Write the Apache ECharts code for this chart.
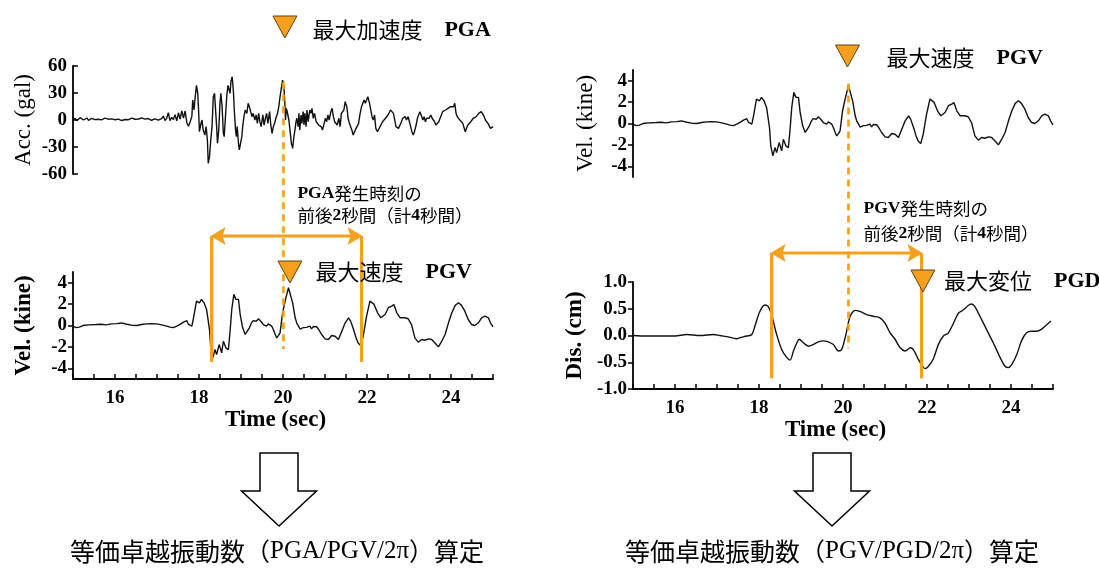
<!DOCTYPE html>
<html>
<head>
<meta charset="utf-8">
<script src="https://cdn.jsdelivr.net/npm/echarts@6/dist/echarts.min.js"></script>
<style>
  html, body { margin: 0; padding: 0; background: #fff; }
  #main { width: 1099px; height: 574px; }
</style>
</head>
<body>
<div id="main"></div>
<script>
// ---- axis ticks and labels ----
const timeTicks = [15, 15.5, 16, 16.5, 17, 17.5, 18, 18.5, 19, 19.5, 20, 20.5, 21, 21.5, 22, 22.5, 23, 23.5, 24, 24.5, 25];
const timeLabels = [16, 18, 20, 22, 24];
const accTicks = [-60, -30, 0, 30, 60];
const velTicks = [-4, -2, 0, 2, 4];
const disTicks = [-1, -0.5, 0, 0.5, 1];

// ---- acceleration record [time (s), acc (gal)] ----
const accPoints = [
  [15.00,1.0],[15.05,1.9],[15.09,-0.7],[15.13,1.5],[15.17,2.6],[15.21,0.5],[15.25,0.0],[15.29,1.5],[15.33,2.2],[15.37,-0.5],
  [15.40,0.7],[15.44,1.8],[15.48,2.6],[15.52,0.4],[15.56,-1.5],[15.60,0.8],[15.64,1.9],[15.68,0.2],[15.72,0.7],[15.76,2.0],
  [15.80,3.0],[15.84,0.9],[15.88,0.0],[15.92,1.2],[15.96,1.5],[16.00,0.3],[16.04,2.2],[16.08,1.0],[16.12,0.0],[16.16,-0.6],
  [16.20,-1.5],[16.24,0.6],[16.28,1.9],[16.32,0.3],[16.36,0.7],[16.40,2.0],[16.44,2.6],[16.48,0.8],[16.52,0.0],[16.56,1.1],
  [16.60,1.5],[16.64,2.4],[16.67,3.3],[16.71,1.0],[16.75,0.7],[16.79,1.6],[16.83,1.5],[16.87,-0.3],[16.91,0.0],[16.95,1.2],
  [16.99,0.7],[17.03,-0.2],[17.07,-0.7],[17.11,1.5],[17.15,4.4],[17.19,-0.7],[17.23,1.9],[17.27,8.1],[17.31,-0.7],[17.35,3.0],
  [17.39,0.5],[17.43,6.0],[17.47,-1.0],[17.51,8.0],[17.55,1.0],[17.59,10.0],[17.63,2.0],[17.67,10.0],[17.71,-3.0],[17.75,-7.0],
  [17.79,-2.0],[17.83,4.0],[17.85,22.2],[17.88,11.1],[17.91,25.9],[17.94,38.5],[17.97,29.6],[17.99,11.1],[18.01,-13.0],[18.04,-5.6],
  [18.07,0.0],[18.10,-11.1],[18.14,-16.7],[18.17,-7.4],[18.20,-22.2],[18.22,-48.1],[18.25,-40.7],[18.28,-22.2],[18.31,-7.4],[18.34,25.9],
  [18.37,29.6],[18.40,7.4],[18.42,-7.4],[18.44,-25.9],[18.47,-11.1],[18.50,18.5],[18.52,29.6],[18.55,14.8],[18.58,-14.8],[18.60,-18.5],
  [18.63,3.7],[18.66,25.9],[18.69,38.5],[18.71,37.0],[18.74,29.6],[18.76,42.6],[18.79,48.1],[18.82,31.5],[18.84,11.1],[18.87,-11.1],
  [18.89,-18.5],[18.91,-7.4],[18.94,-25.9],[18.96,-33.3],[18.99,-35.2],[19.02,-18.5],[19.04,-7.4],[19.07,3.7],[19.10,11.1],[19.14,7.4],
  [19.17,18.5],[19.20,14.8],[19.23,9.3],[19.26,3.7],[19.29,7.4],[19.33,0.0],[19.36,5.6],[19.39,-3.7],[19.42,7.4],[19.45,-1.9],
  [19.48,-7.4],[19.52,5.6],[19.55,-5.6],[19.58,1.9],[19.61,7.4],[19.64,-3.7],[19.68,9.3],[19.71,-5.6],[19.74,-14.8],[19.77,-7.4],
  [19.80,-3.7],[19.83,1.9],[19.87,7.4],[19.90,14.8],[19.93,25.9],[19.96,35.2],[19.99,44.4],[20.02,38.5],[20.04,22.2],[20.06,0.0],
  [20.08,13.0],[20.10,9.3],[20.14,0.0],[20.17,-13.0],[20.20,-25.9],[20.23,-31.5],[20.26,-18.5],[20.29,-9.0],[20.31,-1.9],[20.33,1.9],
  [20.36,-7.4],[20.38,7.4],[20.40,-11.1],[20.43,5.6],[20.45,-3.7],[20.48,9.3],[20.50,-5.6],[20.52,7.4],[20.55,-7.4],[20.57,11.1],
  [20.60,-1.9],[20.62,5.6],[20.64,11.1],[20.67,7.4],[20.69,13.0],[20.72,1.9],[20.75,7.4],[20.79,-1.9],[20.82,0.0],[20.85,-5.6],
  [20.88,-3.7],[20.91,-7.4],[20.94,-11.1],[20.98,-3.7],[21.01,1.9],[21.04,-1.9],[21.07,5.6],[21.10,0.0],[21.14,9.3],[21.17,13.0],
  [21.20,3.7],[21.23,-1.9],[21.26,0.0],[21.29,-5.6],[21.33,1.9],[21.36,-7.4],[21.39,7.4],[21.42,7.4],[21.45,11.1],[21.48,20.4],
  [21.52,14.8],[21.55,1.9],[21.58,-3.7],[21.61,-1.9],[21.64,-11.1],[21.67,-16.7],[21.71,-14.8],[21.74,-9.3],[21.77,-9.3],[21.80,-3.7],
  [21.83,5.6],[21.87,14.8],[21.90,18.5],[21.93,22.2],[21.96,18.5],[21.99,20.4],[22.02,25.9],[22.06,18.5],[22.09,11.1],[22.12,3.7],
  [22.15,0.0],[22.18,5.6],[22.21,-9.3],[22.25,-13.0],[22.28,-11.1],[22.31,-7.4],[22.34,-5.6],[22.37,-1.9],[22.40,-1.9],[22.44,1.9],
  [22.47,3.7],[22.50,5.6],[22.53,7.4],[22.56,11.1],[22.60,13.0],[22.63,7.4],[22.66,5.6],[22.69,-7.4],[22.72,-9.3],[22.75,-9.3],
  [22.79,-7.4],[22.82,-1.9],[22.85,1.9],[22.88,0.0],[22.91,3.7],[22.94,0.0],[22.98,3.7],[23.01,-1.9],[23.04,-7.4],[23.07,-13.0],
  [23.10,-16.7],[23.13,-13.0],[23.17,-5.6],[23.20,1.9],[23.23,5.6],[23.26,9.3],[23.29,5.6],[23.33,0.0],[23.36,3.7],[23.39,-1.9],
  [23.42,1.9],[23.45,0.0],[23.48,1.9],[23.52,5.6],[23.55,1.9],[23.58,0.0],[23.61,-1.9],[23.64,-5.6],[23.67,-7.4],[23.71,-1.9],
  [23.74,1.9],[23.77,5.6],[23.80,9.3],[23.83,7.4],[23.87,11.1],[23.90,9.3],[23.93,13.0],[23.96,11.9],[23.99,14.8],[24.02,16.7],
  [24.06,14.8],[24.09,18.5],[24.12,7.4],[24.15,3.7],[24.18,1.9],[24.21,0.0],[24.25,-1.9],[24.28,-3.7],[24.31,-5.6],[24.34,-13.0],
  [24.37,-9.3],[24.40,-5.6],[24.44,-3.7],[24.47,-1.9],[24.50,0.0],[24.53,1.9],[24.56,0.0],[24.60,3.7],[24.63,5.6],[24.66,7.4],
  [24.69,7.4],[24.72,9.3],[24.75,7.4],[24.79,3.7],[24.82,0.0],[24.85,-1.9],[24.88,-3.7],[24.91,-5.6],[24.94,-9.3],[24.98,-11.1],
  [25.00,-7.4]
];

// ---- velocity record [time (s), vel (kine)] ----
const velPoints = [
  [15.00,-0.05],[15.07,-0.20],[15.15,-0.15],[15.27,0.03],[15.39,0.06],[15.55,0.09],[15.67,0.12],[15.79,0.06],[15.91,0.15],[16.04,0.18],
  [16.16,0.24],[16.28,0.12],[16.40,0.03],[16.52,0.00],[16.63,0.09],[16.75,0.15],[16.87,0.18],[16.99,0.15],[17.11,0.06],[17.23,-0.06],
  [17.31,-0.15],[17.39,-0.20],[17.47,-0.06],[17.55,0.10],[17.63,0.31],[17.71,0.45],[17.75,0.10],[17.83,-0.06],[17.87,0.72],[17.94,2.28],
  [18.01,2.12],[18.06,2.44],[18.12,2.12],[18.18,1.50],[18.25,-0.38],[18.28,-2.09],[18.33,-3.03],[18.38,-2.25],[18.42,-2.72],[18.48,-1.78],
  [18.54,-2.56],[18.58,-1.47],[18.64,-2.09],[18.70,-2.25],[18.74,-0.53],[18.78,1.50],[18.83,2.91],[18.88,2.44],[18.94,2.44],[18.98,1.03],
  [19.04,-0.22],[19.10,-0.84],[19.14,-1.00],[19.20,-0.22],[19.25,0.25],[19.29,0.45],[19.33,0.56],[19.36,0.40],[19.39,0.41],[19.42,0.62],
  [19.45,0.56],[19.49,0.30],[19.53,0.09],[19.57,0.20],[19.61,-0.06],[19.65,0.15],[19.69,0.25],[19.73,-0.05],[19.77,-0.38],[19.81,-0.80],
  [19.85,-1.16],[19.89,-0.95],[19.93,-0.69],[19.99,1.19],[20.05,2.28],[20.09,2.91],[20.13,3.53],[20.17,3.38],[20.23,2.12],[20.29,0.72],
  [20.33,0.20],[20.37,-0.06],[20.41,-0.35],[20.44,-0.38],[20.48,-0.20],[20.52,-0.38],[20.56,-0.18],[20.60,-0.22],[20.64,-0.05],[20.68,-0.31],
  [20.72,-0.10],[20.76,0.00],[20.80,-0.12],[20.84,-0.31],[20.92,-0.84],[21.00,-1.25],[21.08,-1.31],[21.16,-0.94],[21.24,-1.00],[21.32,-1.31],
  [21.40,-0.53],[21.48,0.25],[21.56,0.72],[21.61,0.41],[21.68,-0.38],[21.74,-1.16],[21.79,-1.63],[21.85,-1.88],[21.91,-1.00],[21.99,0.88],
  [22.07,2.28],[22.17,1.97],[22.25,1.19],[22.33,0.72],[22.43,1.03],[22.51,1.66],[22.59,1.81],[22.64,1.97],[22.71,1.19],[22.79,0.72],
  [22.90,0.72],[22.98,0.63],[23.06,0.09],[23.14,-1.16],[23.22,-1.56],[23.30,-1.31],[23.38,-1.38],[23.46,-1.25],[23.54,-1.31],[23.62,-1.63],
  [23.70,-2.00],[23.78,-1.47],[23.86,-0.84],[23.94,0.25],[24.02,1.19],[24.10,1.88],[24.18,2.13],[24.25,1.88],[24.33,1.34],[24.41,0.56],
  [24.49,0.09],[24.57,0.00],[24.65,0.25],[24.73,0.72],[24.81,0.88],[24.89,0.72],[24.94,0.25],[25.00,-0.12]
];

// ---- displacement record [time (s), dis (cm)] ----
const disPoints = [
  [15.00,0.00],[15.32,-0.01],[15.64,-0.01],[16.00,-0.01],[16.28,0.02],[16.60,0.00],[16.91,0.02],[17.07,0.00],[17.23,-0.02],[17.47,-0.06],
  [17.55,-0.04],[17.71,-0.01],[17.83,0.02],[17.90,0.17],[18.02,0.45],[18.14,0.57],[18.22,0.54],[18.30,0.39],[18.42,0.02],[18.54,-0.26],
  [18.66,-0.41],[18.74,-0.46],[18.82,-0.29],[18.90,-0.14],[18.96,-0.07],[19.06,-0.14],[19.18,-0.20],[19.29,-0.17],[19.41,-0.12],[19.53,-0.10],
  [19.65,-0.12],[19.77,-0.17],[19.89,-0.29],[19.97,-0.26],[20.07,0.02],[20.17,0.36],[20.29,0.47],[20.40,0.45],[20.56,0.39],[20.72,0.36],
  [20.88,0.33],[21.00,0.23],[21.12,0.05],[21.24,-0.07],[21.36,-0.23],[21.48,-0.29],[21.60,-0.23],[21.68,-0.27],[21.79,-0.44],[21.87,-0.54],
  [21.95,-0.62],[22.03,-0.58],[22.15,-0.44],[22.27,-0.17],[22.39,-0.01],[22.51,0.05],[22.63,0.23],[22.75,0.42],[22.87,0.48],[22.98,0.56],
  [23.06,0.59],[23.14,0.54],[23.26,0.36],[23.42,0.11],[23.58,-0.14],[23.74,-0.41],[23.86,-0.58],[23.94,-0.60],[24.02,-0.54],[24.14,-0.35],
  [24.25,-0.10],[24.37,0.05],[24.49,0.08],[24.61,0.08],[24.73,0.12],[24.85,0.20],[24.95,0.27]
];

// ---- peak times and the evaluation window (s) ----
const pgaTime = 20.01;
const pgvTime = 20.13;
const pgdTime = 21.88;
const windowStart = 18.30;
const windowEnd = 21.87;

const SERIF = "'Liberation Serif', 'Times New Roman', serif";
const JP = "'Noto Sans CJK JP', sans-serif";
const ORANGE = '#F6A01E';
const INK = '#000';

function timeAxis(gridIndex, visible) {
  return {
    type: 'value', gridIndex, min: 15, max: 25, show: visible,
    axisLine: { show: true, onZero: false, lineStyle: { color: INK, width: 1.8 } },
    axisTick: { show: true, inside: true, length: 5, customValues: timeTicks, lineStyle: { color: INK, width: 1.5 } },
    axisLabel: { customValues: timeLabels, color: INK, fontFamily: SERIF, fontWeight: 'bold', fontSize: 19, margin: 10 },
    splitLine: { show: false },
    name: 'Time (sec)', nameLocation: 'middle', nameGap: 29,
    nameTextStyle: { color: INK, fontFamily: SERIF, fontWeight: 'bold', fontSize: 23, padding: [0, 15, 0, 0] }
  };
}

function valueAxis(gridIndex, min, max, ticks, name, opts) {
  return {
    type: 'value', gridIndex, min, max,
    axisLine: { show: true, onZero: false, lineStyle: { color: INK, width: 1.8 } },
    axisTick: { show: true, inside: opts.inside, length: 5, customValues: ticks, lineStyle: { color: INK, width: 1.5 } },
    axisLabel: {
      customValues: ticks, color: INK, fontFamily: SERIF, fontWeight: 'bold', fontSize: 19, margin: 6,
      formatter: opts.digits ? (v => v.toFixed(opts.digits)) : (v => String(v))
    },
    splitLine: { show: false },
    name, nameLocation: 'middle', nameGap: opts.gap,
    nameTextStyle: { color: INK, fontFamily: SERIF, fontWeight: opts.bold ? 'bold' : 'normal', fontSize: 23 }
  };
}

function trace(points, gridIndex, smooth) {
  return {
    type: 'line', data: points, xAxisIndex: gridIndex, yAxisIndex: gridIndex,
    showSymbol: false, smooth: smooth || false, animation: false, silent: true,
    lineStyle: { color: '#111', width: 1.4 }
  };
}

const chart = echarts.init(document.getElementById('main'));
chart.setOption({
  animation: false,
  backgroundColor: '#fff',
  grid: [
    { left: 73, top: 66, width: 420, height: 108, outerBoundsMode: 'none' },
    { left: 73, top: 272, width: 420, height: 107, outerBoundsMode: 'none' },
    { left: 633, top: 70, width: 420, height: 107, outerBoundsMode: 'none' },
    { left: 633, top: 282, width: 420, height: 107, outerBoundsMode: 'none' }
  ],
  xAxis: [timeAxis(0, false), timeAxis(1, true), timeAxis(2, false), timeAxis(3, true)],
  yAxis: [
    valueAxis(0, -60, 60, accTicks, 'Acc. (gal)', { inside: true, gap: 38, bold: false }),
    valueAxis(1, -5, 5, velTicks, 'Vel. (kine)', { inside: false, gap: 37, bold: true }),
    valueAxis(2, -5, 5, velTicks, 'Vel. (kine)', { inside: false, gap: 36, bold: false }),
    valueAxis(3, -1, 1, disTicks, 'Dis. (cm)', { inside: false, gap: 46, bold: true, digits: 1 })
  ],
  series: [
    trace(accPoints, 0),
    trace(velPoints, 1),
    trace(velPoints, 2),
    trace(disPoints, 3, 0.3)
  ]
});

// ---- annotations placed through the axis scales ----
const P = (g, t, v) => chart.convertToPixel({ gridIndex: g }, [t, v]);

function triangle(cx, tipY) {
  return { type: 'polygon', z: 20, shape: { points: [[cx - 12, tipY - 22], [cx + 12, tipY - 22], [cx, tipY]] },
           style: { fill: ORANGE, stroke: '#5a4216', lineWidth: 1 } };
}
function segment(x1, y1, x2, y2, dashed) {
  return { type: 'line', z: 15, shape: { x1, y1, x2, y2 },
           style: { stroke: ORANGE, lineWidth: dashed ? 2.6 : 3.2, lineDash: dashed ? [7, 5] : null } };
}
function doubleArrow(x1, x2, y) {
  return [
    segment(x1 + 8, y, x2 - 8, y, false),
    { type: 'polygon', z: 16, shape: { points: [[x1 - 1, y], [x1 + 14, y - 9], [x1 + 11, y], [x1 + 14, y + 9]] }, style: { fill: ORANGE } },
    { type: 'polygon', z: 16, shape: { points: [[x2 + 1, y], [x2 - 14, y - 9], [x2 - 11, y], [x2 - 14, y + 9]] }, style: { fill: ORANGE } }
  ];
}
function label(x, y, parts, size, align) {
  const rich = {
    j: { fontFamily: JP, fontSize: size, fill: INK },
    b: { fontFamily: SERIF, fontSize: size, fontWeight: 'bold', fill: INK },
    r: { fontFamily: SERIF, fontSize: size, fill: INK }
  };
  return { type: 'text', z: 25, x, y,
           style: { text: parts, rich, align: align || 'left', verticalAlign: 'middle' } };
}
function blockArrow(cx, top) {
  const s = 19, h = 37.5;
  return { type: 'polygon', z: 10,
           shape: { points: [[cx - s, top], [cx + s, top], [cx + s, top + 38], [cx + h, top + 38], [cx, top + 73], [cx - h, top + 38], [cx - s, top + 38]] },
           style: { fill: '#fff', stroke: INK, lineWidth: 1.5 } };
}

const g = [];
// left panel: acceleration → velocity
{
  const xPga = P(0, pgaTime, 0)[0];
  const xPgv = P(1, pgvTime, 0)[0];
  const xs = P(1, windowStart, 0)[0];
  const xe = P(1, windowEnd, 0)[0];
  const yAccTop = P(0, 15, 60)[1];
  const yVelTop = P(1, 15, 5)[1];
  const yArrow = yVelTop - 36;
  const yBottom = P(1, 15, -3.4)[1];
  g.push(segment(xPga, P(0, pgaTime, 42)[1], xPga, P(1, pgaTime, -2.2)[1], true));
  g.push(segment(xs, yArrow, xs, yBottom, false));
  g.push(segment(xe, yArrow, xe, yBottom, false));
  g.push(...doubleArrow(xs, xe, yArrow));
  g.push(triangle(xPga + 1.5, yAccTop - 28));
  g.push(label(xPga + 29, yAccTop - 36, '{j|最大加速度　}{b|PGA}', 22));
  g.push(label(xPga + 14, yArrow - 43, '{b|PGA}{j|発生時刻の}', 17.5));
  g.push(label(xPga + 14, yArrow - 21, '{j|前後}{b|2}{j|秒間（計}{b|4}{j|秒間）}', 17.5));
  g.push(triangle(xPgv + 1.5, yVelTop + 11));
  g.push(label(xPgv + 27, yVelTop, '{j|最大速度　}{b|PGV}', 22));
}
// right panel: velocity → displacement
{
  const xPgv = P(2, pgvTime, 0)[0];
  const xPgd = P(3, pgdTime, 0)[0];
  const xs = P(3, windowStart, 0)[0];
  const xe = P(3, windowEnd, 0)[0];
  const yVelTop = P(2, 15, 5)[1];
  const yDisTop = P(3, 15, 1)[1];
  const yArrow = yDisTop - 29;
  const yBottom = P(3, 15, -0.8)[1];
  g.push(segment(xPgv, P(2, pgvTime, 3.75)[1], xPgv, P(3, pgvTime, -0.24)[1], true));
  g.push(segment(xs, yArrow, xs, yBottom, false));
  g.push(segment(xe, yArrow, xe, yBottom, false));
  g.push(...doubleArrow(xs, xe, yArrow));
  g.push(triangle(xPgv - 1, yVelTop - 3));
  g.push(label(xPgv + 38, yVelTop - 12, '{j|最大速度　}{b|PGV}', 22));
  g.push(label(xPgv + 15, yArrow - 45, '{b|PGV}{j|発生時刻の}', 17.5));
  g.push(label(xPgv + 15, yArrow - 20, '{j|前後}{b|2}{j|秒間（計}{b|4}{j|秒間）}', 17.5));
  g.push(triangle(xPgd + 1, yDisTop + 10));
  g.push(label(xPgd + 22, yDisTop - 1, '{j|最大変位　}{b|PGD}', 22));
}
// conversion step below each panel
g.push(blockArrow(279, 453));
g.push(blockArrow(832, 453));
g.push(label(277, 551, '{j|等価卓越振動数（}{r|PGA/PGV/2π}{j|）算定}', 25, 'center'));
g.push(label(832, 551, '{j|等価卓越振動数（}{r|PGV/PGD/2π}{j|）算定}', 25, 'center'));

chart.setOption({ graphic: g });
</script>
</body>
</html>
